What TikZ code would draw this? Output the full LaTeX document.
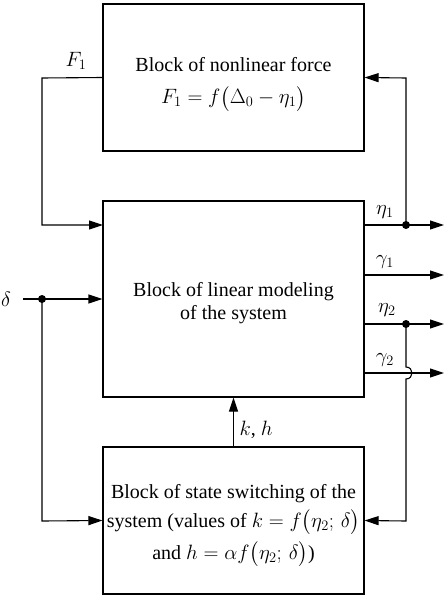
\documentclass[tikz,border=0pt]{standalone}
\usepackage{amsmath}
\usepackage{fontspec}
\setmainfont{Liberation Serif}
\usetikzlibrary{arrows.meta}
\begin{document}
\begin{tikzpicture}[x=1pt,y=-1pt,
  font=\fontsize{20}{24}\selectfont,
  blockbox/.style={draw, line width=1.1pt, minimum width=261pt, align=center, inner sep=0pt},
  wire/.style={line width=1.1pt},
  arr/.style={wire, -{Triangle[length=14pt,width=9pt]}},
  jdot/.style={circle, fill, inner sep=0pt, minimum size=8pt},
  lbl/.style={inner sep=0pt}]
\useasboundingbox (0,0) rectangle (444,602);

% blocks
\node[blockbox, minimum height=147pt] (force) at (233.5,77.5)
  {\rule{0pt}{28pt}Block of nonlinear force\\[8pt] $F_1=f\bigl(\Delta_0-\eta_1\bigr)$};
\node[blockbox, minimum height=196pt] (model) at (233.5,299)
  {\rule{0pt}{22pt}Block of linear modeling\\[-1pt] of the system};
\node[blockbox, minimum height=147pt] (switch) at (233.5,520.5)
  {\rule{0pt}{24pt}Block of state switching of the\\[5pt] system (values of $k=f\bigl(\eta_2;\,\delta\bigr)$\\[6pt] and $h=\alpha f\bigl(\eta_2;\,\delta\bigr)$)};

% routing points
\coordinate (fa) at (42,78);
\coordinate (fb) at (42,225);
\coordinate (inF) at (103,225);
\coordinate (outE1) at (364,225);
\coordinate (tipE1) at (444,225);
\coordinate (outG1) at (364,275);
\coordinate (tipG1) at (444,275);
\coordinate (outE2) at (364,324);
\coordinate (tipE2) at (444,324);
\coordinate (outG2) at (364,373);
\coordinate (tipG2) at (444,373);
\coordinate (dstart) at (23,299);
\coordinate (fbtop) at (406,78);
\coordinate (hopA) at (406,367);
\coordinate (hopB) at (406,379);
\coordinate (sl) at (42,521);
\coordinate (sr) at (406,521);

% junction dots
\node[jdot] (dD) at (42,299) {};
\node[jdot] (dE1) at (406,225) {};
\node[jdot] (dE2) at (406,324) {};

% connectors
\draw[arr] (force.west) -- (fa) -- (fb) -- (inF);
\draw[arr] (dE1.center) -- (fbtop) -- (force.east);
\draw[arr] (outE1) -- (tipE1);
\draw[arr] (outG1) -- (tipG1);
\draw[arr] (outE2) -- (tipE2);
\draw[arr] (outG2) -- (tipG2);
\draw[arr] (dstart) -- (model.west);
\draw[arr] (dD.center) -- (sl) -- (switch.west);
\draw[arr] (dE2.center) -- (hopA) .. controls (414,367) and (414,379) .. (hopB) -- (sr) -- (switch.east);
\draw[arr] (switch.north) -- (model.south);

% signal labels
\node[lbl] (lF) at (76,61) {$F_1$};
\node[lbl] (lE1) at (385,212) {$\eta_1$};
\node[lbl] (lG1) at (385,262) {$\gamma_1$};
\node[lbl] (lE2) at (387,310) {$\eta_2$};
\node[lbl] (lG2) at (385,360) {$\gamma_2$};
\node[lbl] (lD) at (6,299) {$\delta$};
\node[lbl] (lKH) at (256,430) {$k$, $h$};
\end{tikzpicture}
\end{document}
